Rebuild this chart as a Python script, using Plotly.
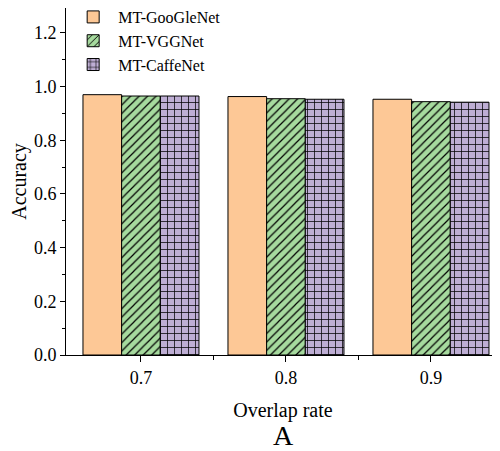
import plotly.graph_objects as go

categories = ["0.7", "0.8", "0.9"]
series_names = ["MT-GooGleNet", "MT-VGGNet", "MT-CaffeNet"]
googlenet = [0.970, 0.963, 0.953]
vggnet = [0.965, 0.955, 0.944]
caffenet = [0.965, 0.953, 0.942]
y_ticks = [0.0, 0.2, 0.4, 0.6, 0.8, 1.0, 1.2]

colors = ["#FDC896", "#A6DA9E", "#BEAED4"]
patterns = ["", "/", "+"]
pat_sizes = [8, 6, 7]
values = [googlenet, vggnet, caffenet]
xpos = list(range(len(categories)))

fig = go.Figure()
for name, vals, col, pat, ps in zip(series_names, values, colors, patterns, pat_sizes):
    fig.add_trace(go.Bar(
        x=xpos, y=vals, name=name,
        marker=dict(color=col, line=dict(color="black", width=1),
                    pattern=dict(shape=pat, fgcolor="black", bgcolor=col, size=ps, solidity=0.2)),
    ))

font = "Liberation Serif"
fig.update_layout(
    template="none",
    width=492, height=443,
    margin=dict(l=58, r=0, t=0, b=96, autoexpand=False),
    paper_bgcolor="white", plot_bgcolor="white",
    barmode="group", bargap=0.2, bargroupgap=0,
    font=dict(family=font, size=16, color="black"),
    showlegend=True,
    legend=dict(x=0.005, y=1.023, xanchor="left", yanchor="top",
                bgcolor="rgba(0,0,0,0)", font=dict(family=font, size=16, color="black"),
                tracegroupgap=0, itemwidth=40),
    xaxis=dict(
        range=[-0.517, 2.476], tickvals=xpos, ticktext=categories,
        showline=True, linecolor="black", linewidth=1, mirror=True,
        ticks="outside", ticklen=6, tickcolor="black", tickwidth=1,
        minor=dict(tickvals=[0.5, 1.5], ticks="outside", ticklen=4, tickcolor="black", tickwidth=1),
        showgrid=False, zeroline=False,
        title=dict(text="Overlap rate", font=dict(family=font, size=20, color="black"), standoff=16),
        tickfont=dict(family=font, size=18, color="black"),
    ),
    yaxis=dict(
        range=[0, 1.293], tickvals=y_ticks, ticktext=[f"{v:.1f}" for v in y_ticks],
        showline=True, linecolor="black", linewidth=1,
        ticks="outside", ticklen=5, tickcolor="black", tickwidth=1,
        minor=dict(dtick=0.1, tick0=0.1, ticks="outside", ticklen=3, tickcolor="black", tickwidth=1),
        showgrid=False, zeroline=False,
        title=dict(text="Accuracy", font=dict(family=font, size=20, color="black"), standoff=6),
        tickfont=dict(family=font, size=18, color="black"),
    ),
    annotations=[dict(text="A", xref="paper", yref="paper", x=0.5, y=-0.232,
                      xanchor="center", yanchor="middle", showarrow=False,
                      font=dict(family=font, size=28, color="black"))],
)

fig.write_html("out.html")
